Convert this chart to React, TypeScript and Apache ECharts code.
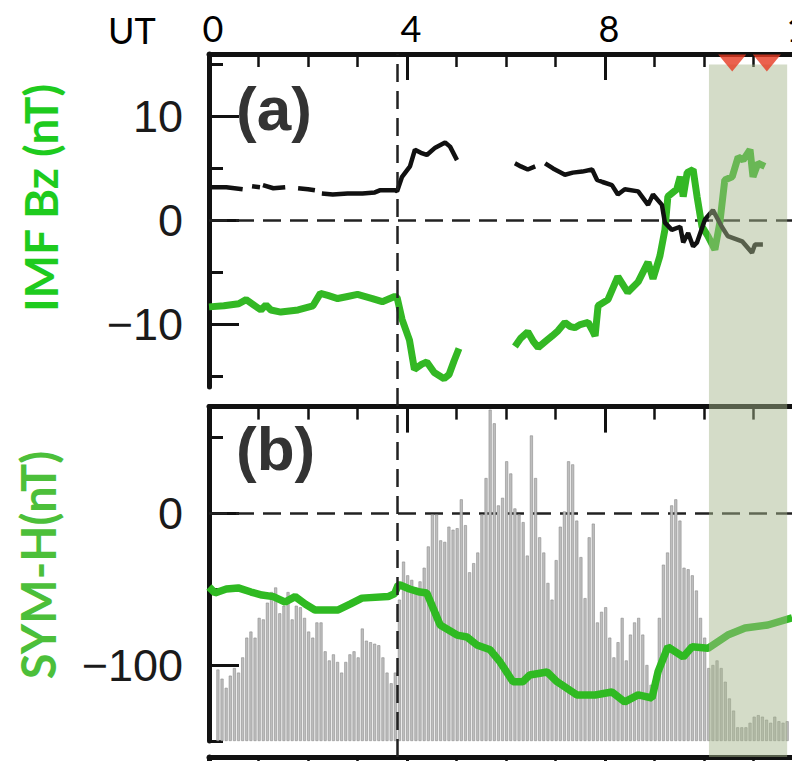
import React, { useEffect, useRef } from "react";
import * as echarts from "echarts";

// ---------- data ----------
const bzTicks = [-10, 0, 10];
const bzMinorTicks = [-15, -5, 5, 15];
const symTicks = [-100, 0];
const symMinorTicks = [-150, -50, 50];

// IMF Bz (green), [UT hour, nT]; null = data gap
const imfBz: [number, number | null][] = [
  [0, -8.3], [0.3, -8.2], [0.6, -8.0], [0.75, -7.6], [0.9, -8.1], [1.05, -8.6], [1.15, -8.1], [1.25, -8.6],
  [1.45, -8.8], [1.8, -8.6], [2.1, -8.2], [2.25, -7.0], [2.4, -7.2], [2.6, -7.5], [2.8, -7.3], [3.0, -7.1],
  [3.3, -7.5], [3.5, -7.8], [3.75, -7.3], [3.8, -7.4], [3.9, -9.5], [4.05, -11.5], [4.15, -14.3], [4.3, -13.8],
  [4.4, -13.6], [4.55, -14.6], [4.75, -15.2], [4.85, -14.8], [4.95, -13.5], [5.05, -12.3], [5.5, null],
  [6.18, -12.1], [6.3, -11.3], [6.44, -10.7], [6.55, -11.6], [6.65, -12.2], [6.8, -11.6], [6.93, -11.1],
  [7.05, -10.6], [7.19, -9.8], [7.3, -10.2], [7.39, -10.3], [7.5, -10.0], [7.66, -9.8], [7.75, -10.6],
  [7.8, -11.1], [7.86, -8.2], [8.06, -7.6], [8.26, -5.4], [8.46, -6.9], [8.67, -5.9], [8.87, -4.0],
  [8.97, -5.6], [9.11, -3.4], [9.21, -0.9], [9.27, 2.3], [9.45, 3.0], [9.52, 4.2], [9.58, 2.3], [9.66, 4.6],
  [9.78, 4.9], [9.86, 2.3], [9.96, -0.6], [10.08, -1.5], [10.22, -2.8], [10.32, -0.2], [10.42, 3.9],
  [10.57, 4.2], [10.69, 6.1], [10.79, 5.8], [10.93, 6.8], [10.99, 4.2], [11.09, 5.5], [11.23, 5.2],
];

// second IMF trace (black), [UT hour, nT]
const imfBlack: [number, number | null][] = [
  [0, 3.2], [0.35, 3.2], [0.68, 3.0], [0.78, null], [0.87, 3.3], [1.03, 3.2], [1.06, null], [1.09, 3.4],
  [1.3, 3.1], [1.54, 3.2], [1.67, null], [1.8, 3.1], [2.0, 3.0], [2.14, 2.9], [2.2, null], [2.28, 2.6],
  [2.5, 2.5], [2.8, 2.6], [3.1, 2.6], [3.35, 2.7], [3.45, 2.9], [3.76, 2.9], [3.8, 2.8], [3.9, 4.2],
  [4.06, 5.2], [4.16, 6.8], [4.28, 6.5], [4.4, 6.3], [4.57, 7.0], [4.77, 7.5], [4.87, 7.1], [5.01, 5.8],
  [5.5, null], [6.18, 5.5], [6.3, 5.2], [6.44, 4.9], [6.59, 5.2], [6.68, null], [6.79, 5.5], [6.95, 5.0],
  [7.19, 4.4], [7.35, 4.6], [7.54, 4.7], [7.74, 4.9], [7.84, 3.9], [7.95, 3.7], [8.14, 3.4], [8.26, 2.5],
  [8.4, 3.0], [8.67, 2.8], [8.87, 1.5], [8.97, 2.5], [9.15, 1.5], [9.21, -0.2], [9.35, -0.9], [9.52, -0.6],
  [9.58, -2.1], [9.68, -1.2], [9.78, -2.5], [9.86, -2.1], [10.02, 0.1], [10.18, 1.0], [10.36, -0.6],
  [10.48, -1.5], [10.77, -2.0], [10.97, -3.1], [11.03, -2.3], [11.19, -2.3],
];

// SYM-H (green), [UT hour, nT]
const symH: [number, number][] = [
  [0, -48.7], [0.12, -52.6], [0.35, -50], [0.59, -49.3], [0.85, -52], [1.07, -54], [1.3, -55], [1.54, -58.6],
  [1.74, -55], [1.95, -60], [2.14, -63.8], [2.61, -63.8], [2.85, -60], [3.09, -56], [3.62, -55], [3.75, -53],
  [3.82, -47.4], [3.86, -47.4], [4.05, -50], [4.26, -52], [4.4, -52.6], [4.67, -73.7], [5.01, -80.3],
  [5.21, -81.6], [5.41, -86.8], [5.68, -90], [5.88, -98], [6.14, -111], [6.34, -111], [6.48, -106.6],
  [6.83, -104.6], [7.03, -111], [7.43, -119.7], [7.8, -119.7], [8.14, -117.8], [8.4, -124.3], [8.67, -119.7],
  [8.95, -121.7], [9.07, -104.6], [9.27, -88], [9.58, -94.7], [9.76, -88], [10.08, -89], [10.48, -80.3],
  [10.83, -75.7], [11.29, -73.7], [11.78, -69],
];

// gray activity bars (5-min samples, arbitrary units above panel floor)
const barStartHour = 0.18;
const barStepHour = 1 / 12;
const activityBars = [
  47, 41, 35, 43, 48, 45, 55, 68, 72, 68, 81, 80, 91, 98, 101, 84, 89, 98, 80, 89, 88, 81, 72, 68, 78, 78, 59, 53,
  57, 52, 45, 52, 57, 59, 55, 74, 66, 65, 64, 63, 55, 45, 38, 45,
  93,
  118, 109, 106, 101, 105, 114, 128, 149, 149, 132, 131, 141, 139, 140, 159, 142, 111, 117, 124, 149, 173, 218,
  209, 155, 160, 184, 176, 153, 149, 144, 122, 201, 173, 134, 124, 104, 93, 119, 141, 151, 184, 182, 145, 121,
  94, 134, 143, 78,
  85, 88, 68, 55, 65, 81, 53, 70, 78, 81, 70, 50, 37, 43, 81, 116, 124, 155, 159, 145, 114, 113, 109, 99, 81, 68,
  48, 50, 53, 48, 39, 28, 20, 9, 9, 9, 12, 16, 17, 16, 14, 12, 16, 13, 12, 13,
];

const onsetHour = 3.8;
const shadedHours = [10.1, 11.68];
const markerHours = [10.57, 11.27];

// ---------- chart ----------
const fmtMinus = (v: number) => (v < 0 ? "\u2212" + Math.abs(v) : String(v));
const AX = "#111";

function xAxisFor(gridIndex: number, visible: boolean, labels: boolean) {
  return {
    type: "value", gridIndex, min: 0, max: 12, interval: 4, position: "top",
    axisLine: { show: visible, onZero: false, lineStyle: { color: AX, width: 5 } },
    axisTick: { show: visible, inside: true, length: 26, lineStyle: { color: AX, width: 3 } },
    minorTick: { show: visible, splitNumber: 4, length: 13, lineStyle: { color: AX, width: 2.5 } },
    axisLabel: {
      show: labels, margin: 8, color: "#000", fontFamily: "Lato", fontSize: 36,
      padding: [0, 0, 0, 8],
    },
    splitLine: { show: false }, minorSplitLine: { show: false },
  };
}

function yMajor(gridIndex: number, min: number, max: number, ticks: number[]) {
  return {
    type: "value", gridIndex, min, max, position: "left",
    axisLine: { show: true, onZero: false, lineStyle: { color: AX, width: 5 } },
    axisTick: { show: true, inside: true, length: 30, customValues: ticks, lineStyle: { color: AX, width: 3 } },
    axisLabel: {
      show: true, customValues: ticks, margin: 26, formatter: fmtMinus,
      color: "#1a1a1a", fontFamily: "Liberation Sans", fontSize: 45,
    },
    splitLine: { show: false },
  };
}

function yMinor(gridIndex: number, min: number, max: number, ticks: number[]) {
  return {
    type: "value", gridIndex, min, max, position: "left",
    axisLine: { show: false },
    axisTick: { show: true, inside: true, length: 14, customValues: ticks, lineStyle: { color: AX, width: 3 } },
    axisLabel: { show: false },
    splitLine: { show: false },
  };
}

const zeroLine = {
  silent: true, symbol: ["none", "none"], z: 1,
  label: { show: false },
  lineStyle: { color: "#222", width: 2.5, type: [18, 9] },
  data: [{ yAxis: 0 }],
};

export default function App() {
  const ref = useRef<HTMLDivElement>(null);
  useEffect(() => {
    if (!ref.current) return;
    const chart = echarts.init(ref.current, null, { renderer: "svg" });
    const option: any = {
      animation: false,
      backgroundColor: "#fff",
      textStyle: { fontFamily: "Liberation Sans" },
      grid: [
        { left: 209, top: 54, width: 594, height: 333 },
        { left: 209, top: 406.6, width: 594, height: 334.4 },
        { left: 209, top: 54, width: 594, height: 703 },
        { left: 209, top: 757, width: 594, height: 60 },
      ],
      xAxis: [
        xAxisFor(0, true, true),
        xAxisFor(1, true, false),
        xAxisFor(2, false, false),
        xAxisFor(3, true, false),
      ],
      yAxis: [
        yMajor(0, -16, 16, bzTicks),
        yMinor(0, -16, 16, bzMinorTicks),
        yMajor(1, -150, 70, symTicks),
        yMinor(1, -150, 70, symMinorTicks),
        { type: "value", gridIndex: 1, min: 0, max: 220, show: false, splitLine: { show: false } },
        { type: "value", gridIndex: 2, min: 0, max: 1, show: false, splitLine: { show: false } },
        {
          type: "value", gridIndex: 3, min: 0, max: 1, position: "left",
          axisLine: { show: true, onZero: false, lineStyle: { color: AX, width: 5 } },
          axisTick: { show: false }, axisLabel: { show: false }, splitLine: { show: false },
        },
      ],
      series: [
        {
          name: "activity", type: "bar", xAxisIndex: 1, yAxisIndex: 4, z: 1, barWidth: 3,
          itemStyle: { color: "#bebebe", borderColor: "#8c8c8c", borderWidth: 0.6 },
          data: activityBars.map((v, i) => [barStartHour + i * barStepHour, v]),
        },
        {
          name: "SYM-H", type: "line", xAxisIndex: 1, yAxisIndex: 2, z: 3, showSymbol: false,
          lineStyle: { color: "#2fba22", width: 7.5 }, itemStyle: { color: "#2fba22" },
          data: symH, markLine: zeroLine,
        },
        {
          name: "IMF Bz", type: "line", xAxisIndex: 0, yAxisIndex: 0, z: 3, showSymbol: false,
          connectNulls: false,
          lineStyle: { color: "#33b824", width: 7 }, itemStyle: { color: "#33b824" },
          data: imfBz, markLine: zeroLine,
        },
        {
          name: "IMF trace", type: "line", xAxisIndex: 0, yAxisIndex: 0, z: 4, showSymbol: false,
          connectNulls: false,
          lineStyle: { color: "#111", width: 4.5 }, itemStyle: { color: "#111" },
          data: imfBlack,
        },
        {
          name: "overlay", type: "scatter", xAxisIndex: 2, yAxisIndex: 5, z: 10, symbolSize: 0, data: [],
          markArea: {
            silent: true, z: 10,
            itemStyle: { color: "rgba(165,182,140,0.48)" },
            data: [[{ xAxis: shadedHours[0], yAxis: 0 }, { xAxis: shadedHours[1], yAxis: 0.985 }]],
          },
          markLine: {
            silent: true, z: 6, symbol: ["none", "none"], label: { show: false },
            lineStyle: { color: "#222", width: 2.5, type: [18, 9] },
            data: [{ xAxis: onsetHour }],
          },
        },
        {
          name: "markers", type: "scatter", xAxisIndex: 0, yAxisIndex: 0, z: 20, clip: false,
          symbol: "path://M0,0 L2,0 L1,1 Z", symbolSize: [28, 17], symbolOffset: [0, 9],
          itemStyle: { color: "#e63a22" },
          data: markerHours.map((h) => [h, 16]),
        },
      ],
      graphic: [
        {
          type: "text", x: 108, y: 30, z: 100,
          style: { text: "UT", font: "36px Lato", fill: "#000", textAlign: "left", textVerticalAlign: "middle" },
        },
        {
          type: "text", x: 236, y: 108, z: 100,
          style: { text: "(a)", font: "bold 62px 'Liberation Sans'", fill: "#333", textAlign: "left", textVerticalAlign: "middle" },
        },
        {
          type: "text", x: 236, y: 448, z: 100,
          style: { text: "(b)", font: "bold 62px 'Liberation Sans'", fill: "#333", textAlign: "left", textVerticalAlign: "middle" },
        },
        {
          type: "text", x: 40, y: 198, rotation: Math.PI / 2, z: 100,
          style: { text: "IMF Bz (nT)", font: "bold 46px Lato", fill: "#1ecb1e", textAlign: "center", textVerticalAlign: "middle" },
        },
        {
          type: "text", x: 38, y: 565, rotation: Math.PI / 2, z: 100,
          style: { text: "SYM-H(nT)", font: "bold 47px Lato", fill: "#4cbf3a", textAlign: "center", textVerticalAlign: "middle" },
        },
      ],
    };
    chart.setOption(option);
    return () => chart.dispose();
  }, []);
  return (
    <div style={{ position: "fixed", left: 0, top: 0, width: 792, height: 761, overflow: "hidden", background: "#fff" }}>
      <div ref={ref} style={{ width: 840, height: 761 }} />
    </div>
  );
}
